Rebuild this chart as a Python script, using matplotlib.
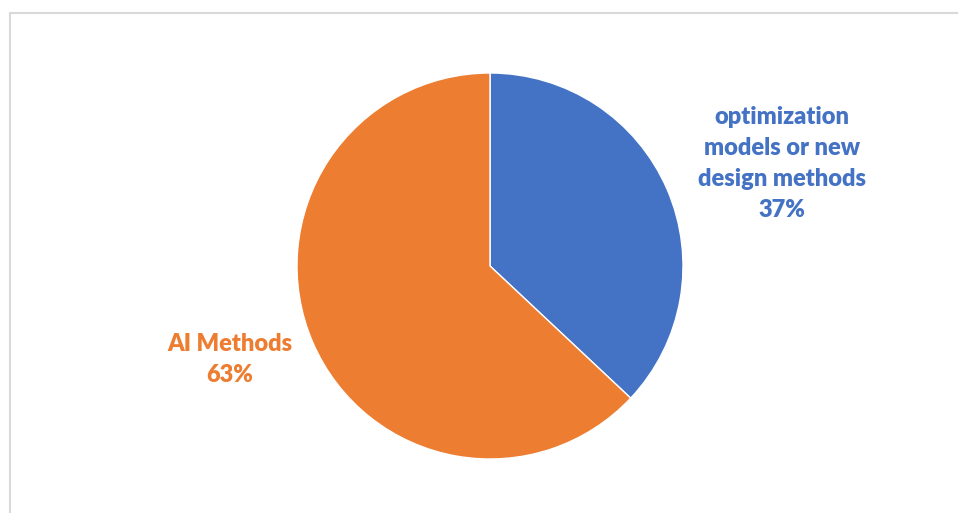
import matplotlib
matplotlib.use("Agg")
import matplotlib.pyplot as plt
from matplotlib.lines import Line2D

labels = ["optimization\nmodels or new\ndesign methods", "AI Methods"]
shares = [37, 63]
colors = ["#4472C4", "#ED7D31"]
label_pos = [(1.513, 0.53), (-1.347, -0.487)]

W, H = 958, 513
fig = plt.figure(figsize=(W / 100, H / 100), dpi=100)

# chart area frame (left and top edges visible)
fig.add_artist(Line2D([10 / W, 10 / W], [0, 1 - 13 / H], color="#D9D9D9", lw=1.5))
fig.add_artist(Line2D([10 / W, 1], [1 - 13 / H, 1 - 13 / H], color="#D9D9D9", lw=1.5))

cx, cy, r = 490, 266, 193
ax = fig.add_axes([(cx - r) / W, (H - cy - r) / H, 2 * r / W, 2 * r / H])
ax.pie(shares, colors=colors, startangle=90, counterclock=False, radius=1,
       wedgeprops=dict(edgecolor="white", linewidth=1))
ax.set_xlim(-1, 1)
ax.set_ylim(-1, 1)
ax.set_aspect("auto")
ax.axis("off")

for lab, val, col, (x, y) in zip(labels, shares, colors, label_pos):
    ax.text(x, y, "{}\n{}%".format(lab, val), color=col, ha="center", va="center",
            fontsize=17, fontweight="heavy", family=["Lato", "DejaVu Sans"],
            linespacing=1.5)

fig.savefig("out.png", dpi=100)
